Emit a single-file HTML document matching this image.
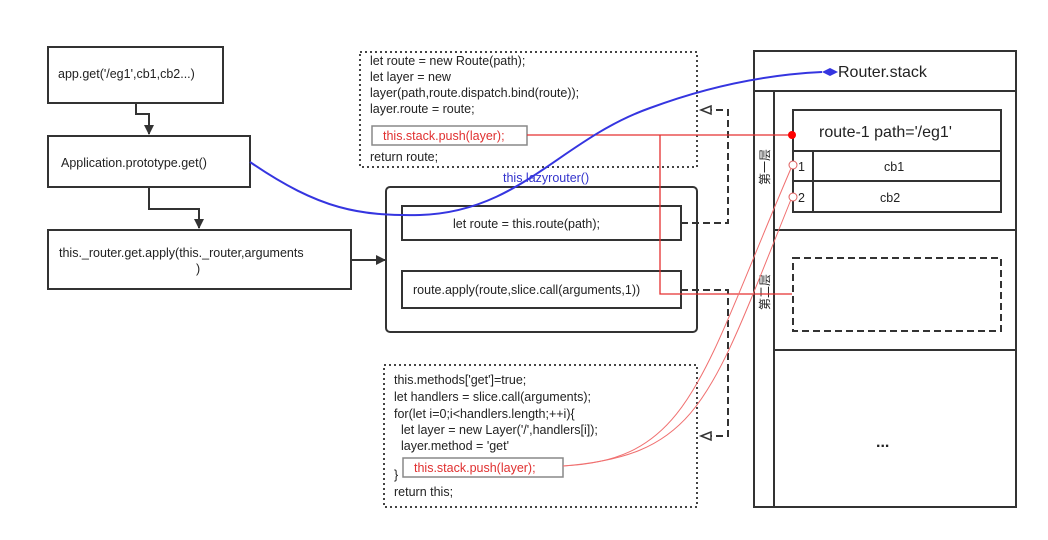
<!DOCTYPE html>
<html><head><meta charset="utf-8"><style>
html,body{margin:0;padding:0;background:#fff}
svg{display:block}
text{font-family:"Liberation Sans","Noto Sans CJK SC",sans-serif;fill:#222}
</style></head><body>
<svg width="1048" height="540" viewBox="0 0 1048 540" xmlns="http://www.w3.org/2000/svg">
<defs>
<marker id="ah" markerWidth="10" markerHeight="10" refX="9" refY="5" orient="auto" markerUnits="userSpaceOnUse"><path d="M0,0 L10,5 L0,10 z" fill="#333"/></marker>
</defs>
<g stroke="#333" stroke-width="2" fill="none">
<rect x="48" y="47" width="175" height="56"/>
<rect x="48" y="136" width="202" height="51"/>
<rect x="48" y="230" width="303" height="59"/>
<polyline points="136,103 136,114 149,114 149,134" marker-end="url(#ah)"/>
<polyline points="149,187 149,209 199,209 199,228" marker-end="url(#ah)"/>
<line x1="351" y1="260" x2="385" y2="260" marker-end="url(#ah)"/>
<rect x="386" y="187" width="311" height="145" rx="4"/>
<rect x="402" y="206" width="279" height="34"/>
<rect x="402" y="271" width="279" height="37"/>
</g>
<g stroke="#444" stroke-width="2" fill="none" stroke-dasharray="2,3">
<rect x="360" y="52" width="337" height="115"/>
<rect x="384" y="365" width="313" height="142"/>
</g>
<g stroke="#333" stroke-width="2" fill="none" stroke-dasharray="7,4">
<polyline points="681,223 728,223 728,110 711,110"/>
<polyline points="681,290 728,290 728,436 711,436"/>
<rect x="793" y="258" width="208" height="73"/>
</g>
<g stroke="#333" stroke-width="1.5" fill="#fff">
<path d="M701,110 L711,106 L711,114 z"/>
<path d="M701,436 L711,432 L711,440 z"/>
</g>
<g font-size="12.5">
<text x="370" y="65">let route = new Route(path);</text>
<text x="370" y="81">let layer = new</text>
<text x="370" y="97">layer(path,route.dispatch.bind(route));</text>
<text x="370" y="113">layer.route = route;</text>
<text x="370" y="161">return route;</text>
<text x="394" y="384">this.methods['get']=true;</text>
<text x="394" y="401">let handlers = slice.call(arguments);</text>
<text x="394" y="418">for(let i=0;i&lt;handlers.length;++i){</text>
<text x="401" y="434">let layer = new Layer('/',handlers[i]);</text>
<text x="401" y="450">layer.method = 'get'</text>
<text x="394" y="479">}</text>
<text x="394" y="496">return this;</text>
<text x="58" y="78">app.get('/eg1',cb1,cb2...)</text>
<text x="61" y="167">Application.prototype.get()</text>
<text x="59" y="257">this._router.get.apply(this._router,arguments</text>
<text x="196" y="273">)</text>
<text x="453" y="228">let route = this.route(path);</text>
<text x="413" y="294">route.apply(route,slice.call(arguments,1))</text>
<text x="503" y="182" style="fill:#3333cc">this.lazyrouter()</text>
</g>
<rect x="372" y="126" width="155" height="19" fill="#fff" stroke="#888" stroke-width="1.5"/>
<text x="383" y="140" font-size="12.5" style="fill:#e03030">this.stack.push(layer);</text>
<rect x="403" y="458" width="160" height="19" fill="#fff" stroke="#888" stroke-width="1.5"/>
<text x="414" y="472" font-size="12.5" style="fill:#e03030">this.stack.push(layer);</text>
<g stroke="#333" stroke-width="2" fill="none">
<rect x="754" y="51" width="262" height="456"/>
<line x1="754" y1="91" x2="1016" y2="91"/>
<line x1="774" y1="91" x2="774" y2="507"/>
<line x1="774" y1="230" x2="1016" y2="230"/>
<line x1="774" y1="350" x2="1016" y2="350"/>
<rect x="793" y="110" width="208" height="102"/>
<line x1="793" y1="151" x2="1001" y2="151"/>
<line x1="793" y1="181" x2="1001" y2="181"/>
<line x1="813" y1="151" x2="813" y2="212"/>
</g>
<text x="838" y="77" font-size="16">Router.stack</text>
<text x="819" y="137" font-size="16">route-1 path='/eg1'</text>
<text x="798" y="171" font-size="12.5">1</text>
<text x="798" y="202" font-size="12.5">2</text>
<text x="884" y="171" font-size="12.5">cb1</text>
<text x="880" y="202" font-size="12.5">cb2</text>
<text x="876" y="447" font-size="16" font-weight="bold">...</text>
<text font-size="12" transform="translate(769,185) rotate(-90)">第一层</text>
<text font-size="12" transform="translate(769,310) rotate(-90)">第二层</text>
<g stroke="#e53030" fill="none" stroke-width="1.3">
<polyline points="527,135 792,135"/>
<polyline points="660,135 660,294 792,294"/>
</g>
<g stroke="#f07070" fill="none" stroke-width="1">
<path d="M563,466 C690,460 700,380 792,166"/>
<path d="M563,466 C700,455 710,400 792,197"/>
</g>
<circle cx="792" cy="135" r="4" fill="#f00"/>
<circle cx="793" cy="165" r="4" fill="#fff" stroke="#e06060"/>
<circle cx="793" cy="197" r="4" fill="#fff" stroke="#e06060"/>
<path d="M250,162 C320,210 360,216 420,215 C520,212 560,140 650,108 C720,82 780,74 822,72" stroke="#3535e0" stroke-width="2" fill="none"/>
<path d="M822,72 L830,68 L838,72 L830,76 z" fill="#3535e0"/>
</svg>
</body></html>
